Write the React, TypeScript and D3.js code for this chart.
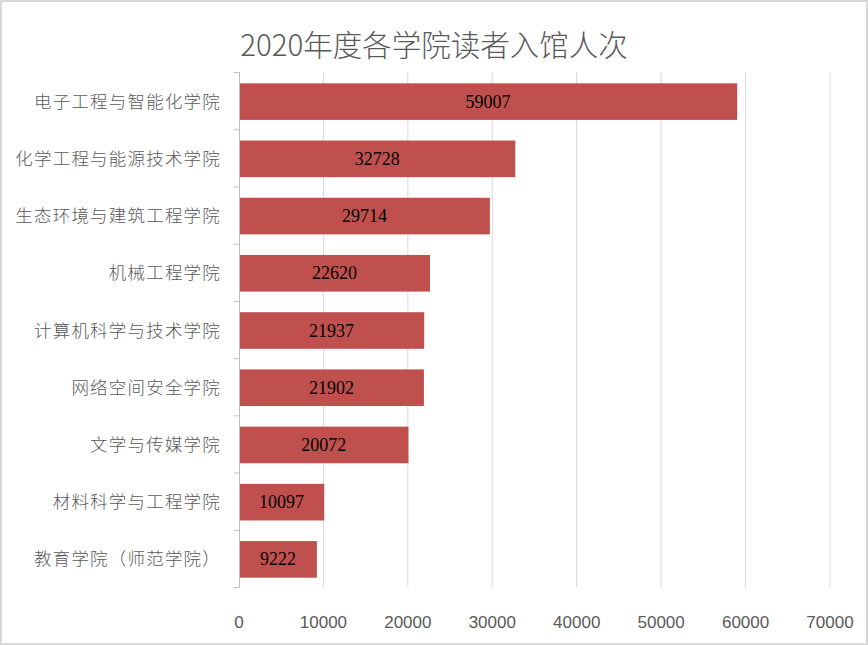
import * as d3 from 'd3';
import React, { useEffect, useRef } from 'react';

const colleges = [
  '电子工程与智能化学院',
  '化学工程与能源技术学院',
  '生态环境与建筑工程学院',
  '机械工程学院',
  '计算机科学与技术学院',
  '网络空间安全学院',
  '文学与传媒学院',
  '材料科学与工程学院',
  '教育学院（师范学院）',
];
const visits = [59007, 32728, 29714, 22620, 21937, 21902, 20072, 10097, 9222];
const xTicks = [0, 10000, 20000, 30000, 40000, 50000, 60000, 70000];
const title = '2020年度各学院读者入馆人次';

const App = () => {
  const ref = useRef<SVGSVGElement>(null);

  useEffect(() => {
    const width = 868;
    const height = 645;
    const margin = { top: 72, right: 38, bottom: 55, left: 239 };

    const svg = d3.select(ref.current);
    svg.selectAll('*').remove();

    // chart frame
    svg.append('rect')
      .attr('x', 1).attr('y', 1)
      .attr('width', width - 2).attr('height', height - 2)
      .attr('fill', '#fff')
      .attr('stroke', '#d9d9d9')
      .attr('stroke-width', 2);

    svg.append('text')
      .attr('x', width / 2)
      .attr('y', 56)
      .attr('text-anchor', 'middle')
      .attr('font-family', '"Noto Sans CJK SC", sans-serif')
      .attr('font-weight', 300)
      .attr('font-size', 29.5)
      .attr('fill', '#595959')
      .text(title);

    const x = d3.scaleLinear()
      .domain([0, 70000])
      .range([margin.left, margin.left + 591]);

    const plotBottom = height - margin.bottom - 3;

    const y = d3.scaleBand()
      .domain(colleges)
      .range([margin.top, plotBottom])
      .paddingInner(0.36)
      .paddingOuter(0.18);

    // vertical gridlines
    svg.append('g')
      .selectAll('line')
      .data(xTicks.slice(1))
      .enter().append('line')
      .attr('x1', d => x(d)).attr('x2', d => x(d))
      .attr('y1', margin.top).attr('y2', plotBottom)
      .attr('stroke', '#d9d9d9')
      .attr('stroke-width', 1);

    // bars
    svg.append('g')
      .selectAll('rect')
      .data(colleges)
      .enter().append('rect')
      .attr('x', x(0))
      .attr('y', d => y(d)! + 1)
      .attr('width', (d, i) => x(visits[i]) - x(0))
      .attr('height', y.bandwidth())
      .attr('fill', '#c0504d');

    // value labels
    svg.append('g')
      .selectAll('text')
      .data(colleges)
      .enter().append('text')
      .attr('x', (d, i) => (x(0) + x(visits[i])) / 2)
      .attr('y', d => y(d)! + y.bandwidth() / 2 + 7)
      .attr('text-anchor', 'middle')
      .attr('font-family', '"Liberation Serif", serif')
      .attr('font-size', 18)
      .attr('fill', '#000')
      .text((d, i) => visits[i]);

    // category axis line + ticks between categories
    const axis = svg.append('g').attr('stroke', '#bfbfbf').attr('stroke-width', 1);
    axis.append('line')
      .attr('x1', x(0) + 0.5).attr('x2', x(0) + 0.5)
      .attr('y1', margin.top).attr('y2', plotBottom);
    const step = (plotBottom - margin.top) / colleges.length;
    axis.selectAll('line.tick')
      .data(d3.range(colleges.length + 1))
      .enter().append('line')
      .attr('class', 'tick')
      .attr('x1', x(0) - 5).attr('x2', x(0) + 0.5)
      .attr('y1', i => margin.top + i * step + 0.5)
      .attr('y2', i => margin.top + i * step + 0.5);

    // category labels
    svg.append('g')
      .selectAll('text')
      .data(colleges)
      .enter().append('text')
      .attr('x', 221)
      .attr('y', d => y(d)! + y.bandwidth() / 2 + 7)
      .attr('text-anchor', 'end')
      .attr('font-family', '"Noto Sans CJK SC", sans-serif')
      .attr('font-weight', 300)
      .attr('font-size', 17.5)
      .attr('letter-spacing', 1.2)
      .attr('fill', '#595959')
      .text(d => d);

    // x tick labels
    svg.append('g')
      .selectAll('text')
      .data(xTicks)
      .enter().append('text')
      .attr('x', d => x(d))
      .attr('y', 628)
      .attr('text-anchor', 'middle')
      .attr('font-family', '"Liberation Sans", sans-serif')
      .attr('font-size', 17)
      .attr('fill', '#595959')
      .text(d => d);
  }, []);

  return (
    <svg ref={ref} width={868} height={645}
      style={{ position: 'absolute', left: 0, top: 0, display: 'block' }} />
  );
};

export default App;
